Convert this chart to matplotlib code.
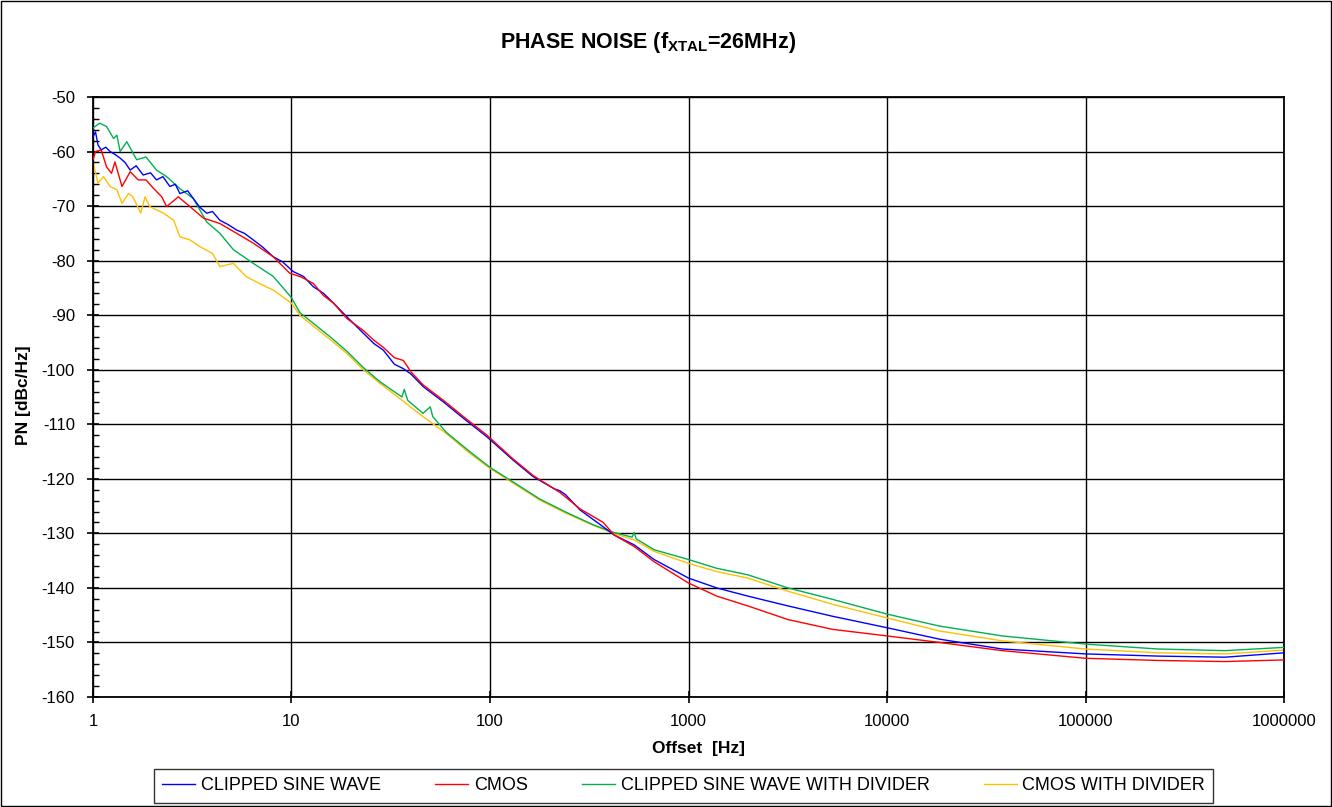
import matplotlib
matplotlib.use("Agg")
import matplotlib.pyplot as plt
from matplotlib.patches import Rectangle
from matplotlib.ticker import MultipleLocator, FixedLocator

plt.rcParams["font.family"] = ["Liberation Sans", "DejaVu Sans"]
plt.rcParams["mathtext.fontset"] = "custom"
plt.rcParams["mathtext.bf"] = "Liberation Sans:bold"
plt.rcParams["mathtext.rm"] = "Liberation Sans"
plt.rcParams["axes.unicode_minus"] = False

# Phase noise curves (offset in Hz, PN in dBc/Hz)
blue_f = [1.0, 1.03, 1.06, 1.1, 1.16, 1.22, 1.3, 1.37, 1.45, 1.54, 1.65, 1.79, 1.95, 2.09,
          2.25, 2.44, 2.6, 2.74, 3.0, 3.2, 3.45, 3.74, 4.0, 4.36, 4.8, 5.3, 5.8, 6.42, 7.2,
          8.1, 9.0, 10.2, 11.5, 12.9, 14.5, 16.3, 19.0, 23.0, 26.0, 29.0, 33.0, 36.6,
          40.0, 46.1, 58.2, 73.5, 96.5, 131, 165, 210, 225, 240, 284, 372, 422, 532, 671,
          1000, 1387, 1990, 3170, 5320, 1e4, 18400, 38000, 1e5, 232000, 505000, 1e6]
blue_pn = [-57.3, -56.4, -58.8, -59.7, -59.2, -60.0, -60.6, -61.2, -62.0, -63.4, -62.6,
           -64.3, -63.9, -65.2, -64.6, -66.4, -66.0, -67.7, -67.2, -68.6, -70.2, -71.3,
           -71.0, -72.6, -73.4, -74.4, -75.0, -76.2, -77.6, -79.3, -80.2, -82.0, -82.9,
           -84.8, -86.0, -87.8, -90.3, -93.3, -95.2, -96.4, -99.0, -99.8, -100.8, -103.1,
           -105.9, -108.9, -112.3, -116.6, -119.6, -121.8, -122.2, -122.9, -125.7,
           -128.8, -130.3, -132.1, -134.8, -138.2, -140.0, -141.5, -143.3, -145.2,
           -147.3, -149.4, -151.2, -152.1, -152.5, -152.7, -151.9]

red_f = [1.0, 1.03, 1.1, 1.17, 1.24, 1.29, 1.40, 1.54, 1.69, 1.85, 2.0, 2.22, 2.35, 2.69,
         3.08, 3.6, 4.36, 5.3, 6.42, 8.1, 9.8, 11.2, 12.9, 14.5, 16.3, 19.0, 23.0, 26.0,
         29.0, 33.0, 36.6, 40.0, 46.1, 58.2, 73.5, 96.5, 131, 165, 225, 284, 372, 422,
         532, 671, 1000, 1387, 1990, 3170, 5320, 1e4, 18400, 38000, 1e5, 232000, 505000,
         1e6]
red_pn = [-61.5, -60.0, -59.7, -62.8, -64.0, -61.9, -66.4, -63.7, -65.2, -65.2, -66.6,
          -68.3, -70.1, -68.3, -70.1, -72.2, -73.2, -75.0, -76.8, -79.3, -82.3, -83.0,
          -84.2, -86.4, -87.8, -90.6, -92.8, -94.6, -95.9, -97.8, -98.3, -100.4, -102.8,
          -105.6, -108.6, -112.0, -116.4, -119.4, -122.5, -125.5, -128.0, -130.3, -132.4,
          -135.2, -139.1, -141.5, -143.3, -145.8, -147.6, -148.8, -150.0, -151.5, -152.9,
          -153.3, -153.5, -153.2]

green_f = [1.0, 1.08, 1.17, 1.27, 1.32, 1.37, 1.48, 1.66, 1.85, 2.09, 2.35, 2.74, 3.2,
           3.74, 4.36, 5.1, 6.42, 8.1, 10.0, 11.0, 15.7, 19.0, 23.0, 27.9, 36.0, 37.0,
           38.5, 46.0, 50.0, 51.5, 60.3, 79, 100, 131, 178, 241, 330, 418, 520, 532,
           545, 671, 1000, 1387, 1990, 3170, 5320, 1e4, 18400, 38000, 1e5, 232000,
           505000, 1e6]
green_pn = [-55.7, -54.8, -55.4, -57.6, -57.0, -60.0, -58.2, -61.5, -61.0, -63.4, -64.6,
            -66.8, -68.6, -72.9, -75.0, -78.0, -80.5, -82.9, -86.8, -89.5, -94.0, -96.6,
            -99.6, -102.2, -105.0, -103.6, -105.6, -108.0, -106.8, -108.6, -111.5,
            -115.0, -117.9, -120.6, -123.7, -126.1, -128.4, -129.8, -130.7, -129.8,
            -131.0, -133.0, -134.8, -136.4, -137.6, -140.0, -142.1, -144.8, -147.0,
            -148.8, -150.3, -151.2, -151.5, -150.9]

yellow_f = [1.0, 1.06, 1.13, 1.22, 1.32, 1.40, 1.51, 1.59, 1.74, 1.83, 1.93, 2.27, 2.55,
            2.74, 3.08, 3.45, 4.0, 4.36, 5.1, 5.9, 6.9, 8.1, 10.0, 11.0, 15.7, 19.0,
            23.0, 27.9, 36.6, 46, 60.3, 79, 100, 131, 178, 241, 330, 418, 532, 671,
            1000, 1387, 1990, 3170, 5320, 1e4, 18400, 38000, 1e5, 232000, 505000, 1e6]
yellow_pn = [-61.9, -65.8, -64.6, -66.4, -67.0, -69.5, -67.7, -68.3, -71.3, -68.3, -70.1,
             -71.3, -72.6, -75.6, -76.2, -77.4, -78.7, -81.1, -80.5, -82.9, -84.2, -85.4,
             -87.8, -90.0, -94.5, -97.0, -100.0, -102.5, -105.8, -108.6, -111.7, -115.3,
             -118.1, -120.8, -123.9, -126.3, -128.5, -130.0, -131.2, -133.3, -135.5,
             -137.0, -138.2, -140.6, -143.0, -145.5, -147.9, -149.7, -151.2, -151.9,
             -152.1, -151.4]

x_ticks = [1, 10, 100, 1000, 10000, 100000, 1000000]
x_labels = ["1", "10", "100", "1000", "10000", "100000", "1000000"]

fig = plt.figure(figsize=(13.32, 8.07), dpi=100)
ax = fig.add_axes([0.0698, 0.1363, 0.8942, 0.7435])

ax.plot(blue_f, blue_pn, color="#0000FF", lw=1.0, label="CLIPPED SINE WAVE", zorder=4)
ax.plot(red_f, red_pn, color="#FF0000", lw=1.0, label="CMOS", zorder=5)
ax.plot(green_f, green_pn, color="#00B050", lw=1.0, label="CLIPPED SINE WAVE WITH DIVIDER", zorder=3)
ax.plot(yellow_f, yellow_pn, color="#FFC000", lw=1.0, label="CMOS WITH DIVIDER", zorder=2)

ax.set_xscale("log")
ax.set_xlim(1, 1e6)
ax.set_ylim(-160, -50)
ax.xaxis.set_major_locator(FixedLocator(x_ticks))
ax.xaxis.set_minor_locator(FixedLocator([]))
ax.set_xticklabels(x_labels)
ax.yaxis.set_major_locator(MultipleLocator(10))
ax.yaxis.set_minor_locator(MultipleLocator(2))

ax.grid(True, which="major", color="black", lw=1.0)
for s in ax.spines.values():
    s.set_linewidth(1.3)
ax.tick_params(axis="x", which="major", direction="inout", length=8, width=1.2,
               labelsize=12, pad=8)
ax.tick_params(axis="y", which="major", direction="inout", length=8, width=1.2,
               labelsize=12, pad=9)
ax.tick_params(axis="y", which="minor", direction="in", length=4, width=1.0)

fig.text(698 / 1332, 1 - 748 / 807, "Offset  [Hz]", ha="center", va="center",
         fontsize=12.5, fontweight="bold")
fig.text(24 / 1332, 1 - 395 / 807, "PN [dBc/Hz]", ha="center", va="center",
         rotation=90, fontsize=12.5, fontweight="bold")

fig.text(648 / 1332, 1 - 48 / 807, r"PHASE NOISE (f$_{\mathbf{XTAL}}$=26MHz)", ha="center",
         va="baseline", fontsize=15.5, fontweight="bold")

leg = fig.legend(loc="center", ncol=4, bbox_to_anchor=(683.5 / 1332, 1 - 786 / 807),
                 fontsize=13, frameon=True, fancybox=False, edgecolor="black",
                 handlelength=1.85, handletextpad=0.3, columnspacing=3.0,
                 borderpad=0.45, borderaxespad=0)
leg.get_frame().set_linewidth(1.0)

fig.patches.append(Rectangle((0.0008, 0.0012), 0.9984, 0.9976, transform=fig.transFigure,
                             fill=False, edgecolor="black", lw=1.0))

fig.savefig("out.png", dpi=100)
